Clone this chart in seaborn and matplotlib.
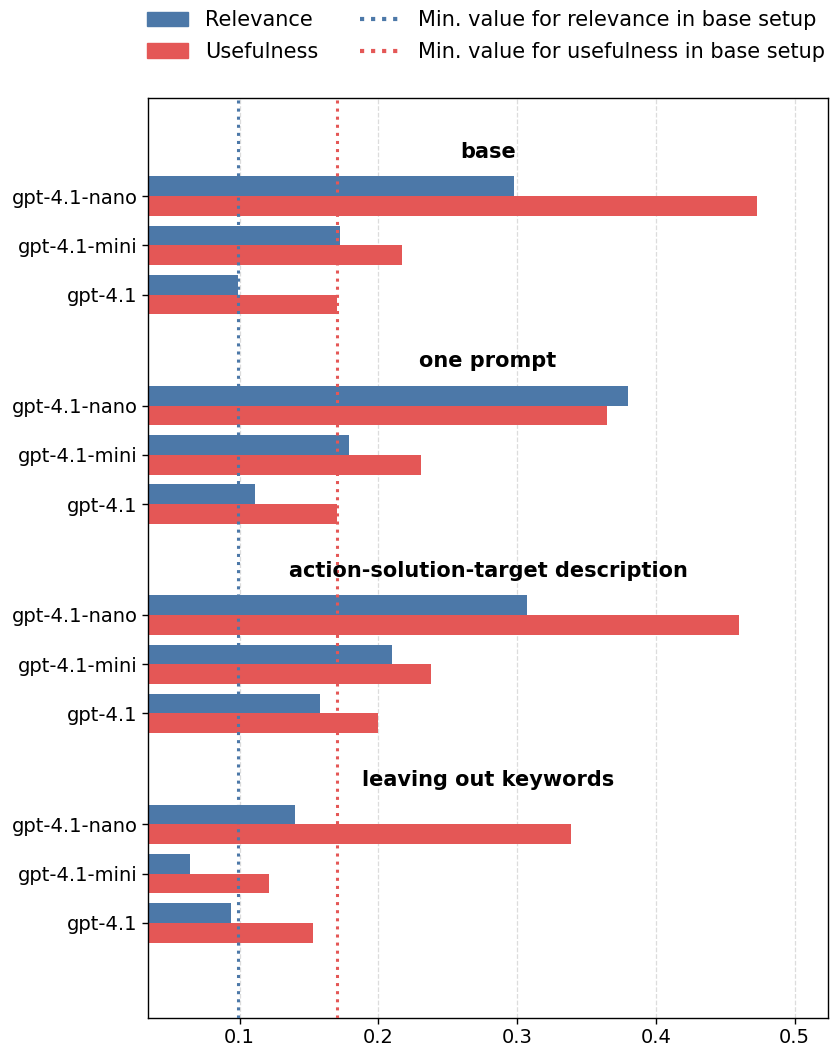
import numpy as np
import pandas as pd
import matplotlib
matplotlib.use("Agg")
import matplotlib.pyplot as plt
import matplotlib.transforms as mtransforms
from matplotlib.patches import Patch
from matplotlib.lines import Line2D
import seaborn as sns

# data
setups = ["base", "one prompt", "action-solution-target description", "leaving out keywords"]
models = ["gpt-4.1-nano", "gpt-4.1-mini", "gpt-4.1"]
relevance = [
    [0.298, 0.172, 0.0985],
    [0.380, 0.179, 0.111],
    [0.307, 0.210, 0.158],
    [0.140, 0.064, 0.094],
]
usefulness = [
    [0.473, 0.217, 0.1705],
    [0.365, 0.231, 0.170],
    [0.460, 0.238, 0.200],
    [0.339, 0.121, 0.153],
]

colors = {"Relevance": "#4c78a8", "Usefulness": "#e45756"}
group_gap = 4.25

rows = []
positions, tick_labels, title_pos = [], [], []
for g, setup in enumerate(setups):
    base_y = g * group_gap
    title_pos.append(base_y - 0.9)
    for m, model in enumerate(models):
        y = base_y + m
        positions.append(y)
        tick_labels.append(model)
        rows.append({"pos": y, "metric": "Relevance", "value": relevance[g][m]})
        rows.append({"pos": y, "metric": "Usefulness", "value": usefulness[g][m]})
df = pd.DataFrame(rows)

min_rel = df[(df.metric == "Relevance") & (df.pos < group_gap)]["value"].min()
min_use = df[(df.metric == "Usefulness") & (df.pos < group_gap)]["value"].min()

sns.set_style("white")
plt.rcParams["font.family"] = ["DejaVu Sans"]
plt.rcParams["text.color"] = "black"
plt.rcParams["xtick.color"] = "black"
plt.rcParams["ytick.color"] = "black"

fig, ax = plt.subplots(figsize=(8.33, 10.52), dpi=100)
fig.subplots_adjust(left=0.1777, right=0.994, top=0.9068, bottom=0.0323)

sns.barplot(data=df, x="value", y="pos", hue="metric", orient="h", native_scale=True,
            palette=colors, hue_order=["Relevance", "Usefulness"], width=0.8,
            saturation=1, linewidth=0, ax=ax, legend=False)

ax.axvline(min_rel, color=colors["Relevance"], linestyle=":", linewidth=2.2, zorder=3)
ax.axvline(min_use, color=colors["Usefulness"], linestyle=":", linewidth=2.2, zorder=3)

ax.set_xlim(0.034, 0.524)
ax.set_ylim(16.68, -1.99)
ax.set_yticks(positions)
ax.set_yticklabels(tick_labels, fontsize=14)
ax.set_xticks([0.1, 0.2, 0.3, 0.4, 0.5])
ax.set_xticklabels(["0.1", "0.2", "0.3", "0.4", "0.5"], fontsize=14)
ax.tick_params(axis="both", length=4, width=1, colors="black", left=True, bottom=True)
ax.set_xlabel("")
ax.set_ylabel("")
ax.grid(axis="x", linestyle="--", color="#dcdcdc", linewidth=0.9)
ax.set_axisbelow(True)
for s in ax.spines.values():
    s.set_color("black")
    s.set_linewidth(1)

trans = mtransforms.blended_transform_factory(ax.transAxes, ax.transData)
for setup, ty in zip(setups, title_pos):
    ax.text(0.5, ty, setup, transform=trans, ha="center", va="center",
            fontsize=15, fontweight="bold", color="black")

handles = [
    Patch(color=colors["Relevance"], label="Relevance"),
    Patch(color=colors["Usefulness"], label="Usefulness"),
    Line2D([], [], color=colors["Relevance"], linestyle=":", linewidth=3,
           label="Min. value for relevance in base setup"),
    Line2D([], [], color=colors["Usefulness"], linestyle=":", linewidth=3,
           label="Min. value for usefulness in base setup"),
]
fig.legend(handles=handles, ncol=2, loc="upper left", bbox_to_anchor=(0.1534, 1.008),
           frameon=False, fontsize=15, handlelength=2.0, columnspacing=2.0,
           handletextpad=0.8, labelspacing=0.55)

fig.savefig("out.png", dpi=100)
